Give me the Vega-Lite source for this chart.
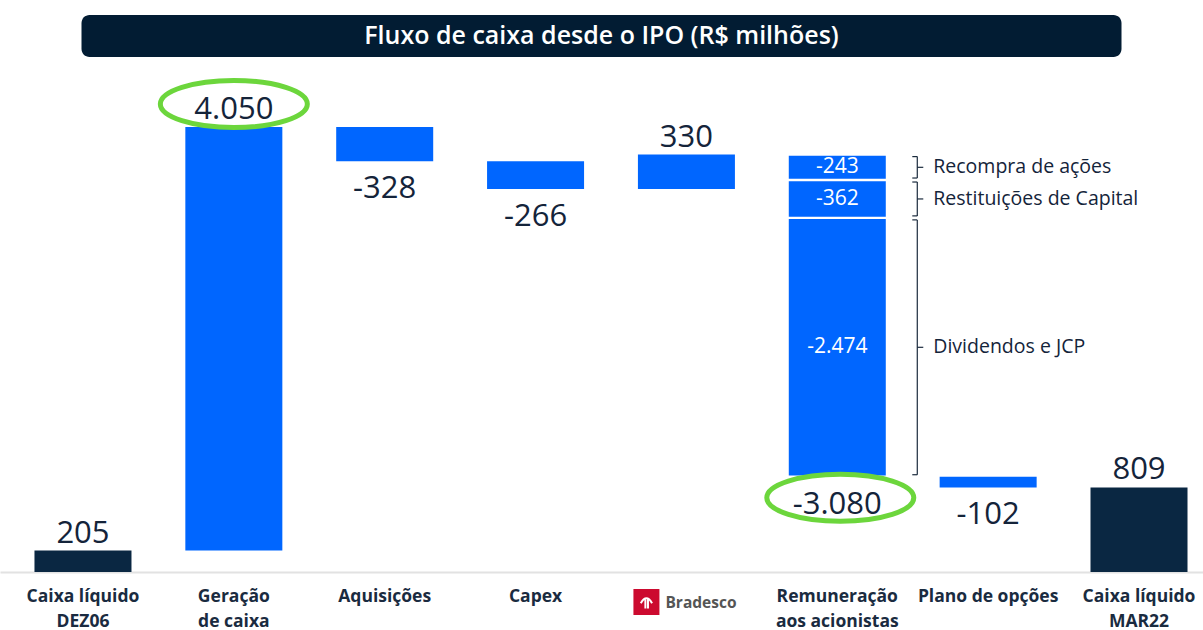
{
  "$schema": "https://vega.github.io/schema/vega-lite/v6.json",
  "padding": {"top": 15, "left": 0, "right": 0, "bottom": 4},
  "spacing": 13,
  "center": true,
  "config": {"view": {"stroke": null}, "font": "Open Sans"},
  "datasets": {
    "fluxo": [
      {"cat": "Caixa líquido|DEZ06", "start": 0, "end": 205, "tipo": "total", "label": "205", "parte": "bar", "desc": ""},
      {"cat": "Geração|de caixa", "start": 205, "end": 4255, "tipo": "pos", "label": "4.050", "parte": "bar", "desc": ""},
      {"cat": "Aquisições", "start": 4255, "end": 3927, "tipo": "neg", "label": "-328", "parte": "bar", "desc": ""},
      {"cat": "Capex", "start": 3927, "end": 3661, "tipo": "neg", "label": "-266", "parte": "bar", "desc": ""},
      {"cat": "Bradesco", "start": 3661, "end": 3991, "tipo": "pos", "label": "330", "parte": "bar", "desc": ""},
      {"cat": "Remuneração|aos acionistas", "start": 3991, "end": 911, "tipo": "neg", "label": "-3.080", "parte": "total", "desc": ""},
      {"cat": "Remuneração|aos acionistas", "start": 3991, "end": 3748, "tipo": "neg", "label": "-243", "parte": "seg", "desc": "Recompra de ações"},
      {"cat": "Remuneração|aos acionistas", "start": 3748, "end": 3386, "tipo": "neg", "label": "-362", "parte": "seg", "desc": "Restituições de Capital"},
      {"cat": "Remuneração|aos acionistas", "start": 3386, "end": 911, "tipo": "neg", "label": "-2.474", "parte": "seg", "desc": "Dividendos e JCP"},
      {"cat": "Plano de opções", "start": 911, "end": 809, "tipo": "neg", "label": "-102", "parte": "bar", "desc": ""},
      {"cat": "Caixa líquido|MAR22", "start": 0, "end": 809, "tipo": "total", "label": "809", "parte": "bar", "desc": ""}
    ]
  },
  "vconcat": [
    {
      "width": 1040,
      "height": 42,
      "view": {"fill": "#021c33", "stroke": null, "cornerRadius": 8},
      "data": {"values": [{"titulo": "Fluxo de caixa desde o IPO (R$ milhões)"}]},
      "mark": {"type": "text", "font": "Open Sans", "fontSize": 25, "fontWeight": 600, "color": "#ffffff", "align": "center", "baseline": "middle"},
      "encoding": {"text": {"field": "titulo", "type": "nominal"}}
    },
    {
      "width": 1203,
      "height": 502,
      "data": {"name": "fluxo"},
      "encoding": {
        "x": {
          "field": "cat",
          "type": "nominal",
          "sort": ["Caixa líquido|DEZ06", "Geração|de caixa", "Aquisições", "Capex", "Bradesco", "Remuneração|aos acionistas", "Plano de opções", "Caixa líquido|MAR22"],
          "scale": {"paddingInner": 0.357, "paddingOuter": 0.1656, "align": 0.69},
          "axis": {
            "title": null,
            "ticks": false,
            "labelAngle": 0,
            "labelPadding": 15,
            "labelFont": "Open Sans",
            "labelFontSize": 17.5,
            "labelFontWeight": "bold",
            "labelLineHeight": 25,
            "labelBaseline": "top",
            "labelColor": "#1a2b40",
            "labelExpr": "datum.value == 'Bradesco' ? '' : split(datum.value, '|')",
            "domainColor": "#e2e2e2",
            "domainWidth": 2,
            "grid": false
          }
        }
      },
      "layer": [
        {
          "transform": [{"filter": "datum.parte == 'bar'"}],
          "mark": {"type": "bar"},
          "encoding": {
            "y": {"field": "start", "type": "quantitative", "scale": {"domain": [0, 4800], "nice": false, "zero": true}, "axis": null},
            "y2": {"field": "end"},
            "color": {"field": "tipo", "type": "nominal", "scale": {"domain": ["total", "pos", "neg"], "range": ["#0a2742", "#0066ff", "#0066ff"]}, "legend": null}
          }
        },
        {
          "transform": [{"filter": "datum.parte == 'seg'"}],
          "mark": {"type": "bar", "color": "#0066ff", "yOffset": 1.2, "y2Offset": -1.2},
          "encoding": {
            "y": {"field": "start", "type": "quantitative"},
            "y2": {"field": "end"}
          }
        },
        {
          "transform": [{"filter": "datum.parte == 'bar' && datum.tipo != 'neg'"}],
          "mark": {"type": "text", "font": "Open Sans", "fontSize": 31, "color": "#14243a", "baseline": "alphabetic", "dy": -8},
          "encoding": {
            "y": {"field": "end", "type": "quantitative"},
            "text": {"field": "label", "type": "nominal"}
          }
        },
        {
          "transform": [{"filter": "datum.parte != 'seg' && datum.tipo == 'neg'"}],
          "mark": {"type": "text", "font": "Open Sans", "fontSize": 31, "color": "#14243a", "baseline": "alphabetic", "dy": 37},
          "encoding": {
            "y": {"field": "end", "type": "quantitative"},
            "text": {"field": "label", "type": "nominal"}
          }
        },
        {
          "transform": [{"filter": "datum.parte == 'seg'"}, {"fold": ["start", "end"], "as": ["k", "v"]}],
          "mark": {"type": "text", "font": "Open Sans", "fontSize": 21, "color": "#ffffff", "baseline": "middle"},
          "encoding": {
            "y": {"aggregate": "mean", "field": "v", "type": "quantitative"},
            "text": {"field": "label", "type": "nominal"}
          }
        },
        {
          "transform": [{"filter": "datum.parte == 'seg'"}],
          "mark": {"type": "rule", "color": "#1b2b3d", "strokeWidth": 1.2, "xOffset": 80, "yOffset": 2, "y2Offset": -2},
          "encoding": {
            "y": {"field": "start", "type": "quantitative"},
            "y2": {"field": "end"}
          }
        },
        {
          "transform": [{"filter": "datum.parte == 'seg'"}],
          "mark": {"type": "point", "shape": "M -1 0 L 0 0", "size": 100, "filled": false, "color": "#1b2b3d", "strokeWidth": 1.2, "opacity": 1, "xOffset": 80, "yOffset": 2},
          "encoding": {
            "y": {"field": "start", "type": "quantitative"}
          }
        },
        {
          "transform": [{"filter": "datum.parte == 'seg'"}],
          "mark": {"type": "point", "shape": "M -1 0 L 0 0", "size": 100, "filled": false, "color": "#1b2b3d", "strokeWidth": 1.2, "opacity": 1, "xOffset": 80, "yOffset": -2},
          "encoding": {
            "y": {"field": "end", "type": "quantitative"}
          }
        },
        {
          "transform": [{"filter": "datum.parte == 'seg'"}, {"fold": ["start", "end"], "as": ["k", "v"]}],
          "mark": {"type": "point", "shape": "M 0 0 L 1 0", "size": 144, "filled": false, "color": "#1b2b3d", "strokeWidth": 1.2, "opacity": 1, "xOffset": 80},
          "encoding": {
            "y": {"aggregate": "mean", "field": "v", "type": "quantitative"},
            "detail": {"field": "label", "type": "nominal"}
          }
        },
        {
          "transform": [{"filter": "datum.parte == 'seg'"}, {"fold": ["start", "end"], "as": ["k", "v"]}],
          "mark": {"type": "text", "font": "Open Sans", "fontSize": 19.5, "color": "#14243a", "align": "left", "baseline": "middle", "xOffset": 96},
          "encoding": {
            "y": {"aggregate": "mean", "field": "v", "type": "quantitative"},
            "text": {"field": "desc", "type": "nominal"}
          }
        },
        {
          "transform": [{"filter": "datum.label == '4.050'"}],
          "mark": {"type": "point", "shape": "M -1 0 A 1 0.32 0 1 0 1 0 A 1 0.32 0 1 0 -1 0", "size": 21609, "filled": false, "color": "#6cd63c", "strokeWidth": 5, "opacity": 1, "yOffset": -23},
          "encoding": {
            "y": {"field": "end", "type": "quantitative"}
          }
        },
        {
          "transform": [{"filter": "datum.label == '-3.080'"}],
          "mark": {"type": "point", "shape": "M -1 0 A 1 0.32 0 1 0 1 0 A 1 0.32 0 1 0 -1 0", "size": 21609, "filled": false, "color": "#6cd63c", "strokeWidth": 5, "opacity": 1, "xOffset": 3, "yOffset": 21},
          "encoding": {
            "y": {"field": "end", "type": "quantitative"}
          }
        },
        {
          "transform": [{"filter": "datum.cat == 'Bradesco'"}],
          "mark": {"type": "point", "shape": "square", "size": 676, "filled": true, "color": "#cc0a2f", "opacity": 1, "xOffset": -40, "yOffset": 30},
          "encoding": {
            "y": {"datum": 0, "type": "quantitative"}
          }
        },
        {
          "transform": [{"filter": "datum.cat == 'Bradesco'"}],
          "mark": {"type": "point", "shape": "M -0.65 0.15 Q 0 -1.0 0.65 0.15 M -0.12 -0.35 L -0.12 0.75 M 0.18 -0.3 L 0.18 0.75", "size": 300, "filled": false, "color": "#ffffff", "strokeWidth": 2, "opacity": 1, "xOffset": -40, "yOffset": 30},
          "encoding": {
            "y": {"datum": 0, "type": "quantitative"}
          }
        },
        {
          "transform": [{"filter": "datum.cat == 'Bradesco'"}],
          "mark": {"type": "text", "text": "Bradesco", "font": "Open Sans", "fontSize": 15.5, "fontWeight": "bold", "color": "#555555", "align": "left", "baseline": "middle", "xOffset": -21, "yOffset": 31},
          "encoding": {
            "y": {"datum": 0, "type": "quantitative"}
          }
        }
      ]
    }
  ]
}
